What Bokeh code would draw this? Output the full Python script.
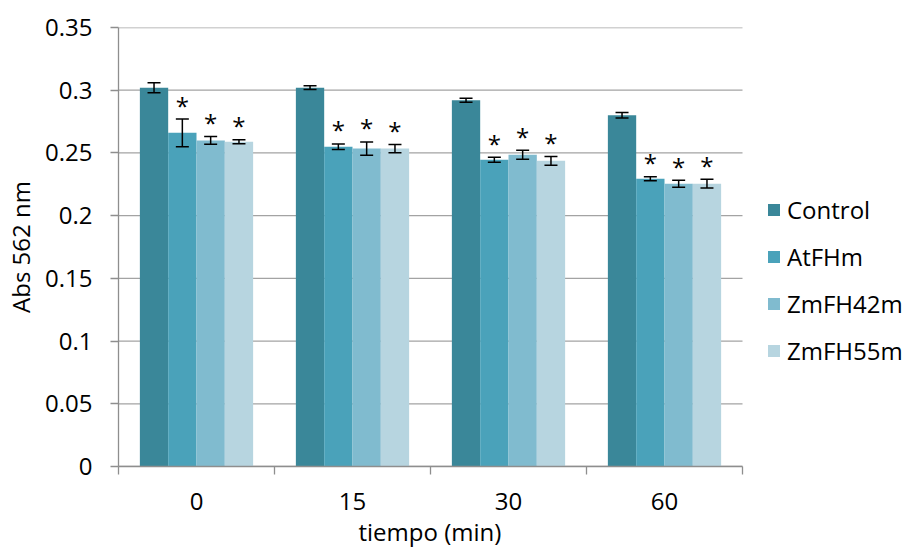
from bokeh.plotting import figure
from bokeh.models import ColumnDataSource, FixedTicker, Whisker, TeeHead, Legend, LegendItem, Range1d, Title
from bokeh.core.properties import value
from bokeh.embed import file_html
from bokeh.resources import INLINE

# ---- data ----
times = ["0", "15", "30", "60"]
series = ["Control", "AtFHm", "ZmFH42m", "ZmFH55m"]
control = [0.302, 0.302, 0.292, 0.280]
control_err = [0.004, 0.0015, 0.0016, 0.0022]
atfhm = [0.266, 0.255, 0.2445, 0.2295]
atfhm_err = [0.011, 0.0022, 0.002, 0.0016]
zmfh42m = [0.260, 0.2535, 0.2485, 0.2255]
zmfh42m_err = [0.003, 0.0053, 0.0036, 0.0028]
zmfh55m = [0.259, 0.2535, 0.2437, 0.2255]
zmfh55m_err = [0.0016, 0.0033, 0.0035, 0.0035]
significant = [
    [False, False, False, False],
    [True, True, True, True],
    [True, True, True, True],
    [True, True, True, True],
]
y_ticks = [0, 0.05, 0.1, 0.15, 0.2, 0.25, 0.3, 0.35]
y_tick_labels = ["0", "0.05", "0.1", "0.15", "0.2", "0.25", "0.3", "0.35"]
x_title = "tiempo (min)"
y_title = "Abs 562 nm"

values = [control, atfhm, zmfh42m, zmfh55m]
errors = [control_err, atfhm_err, zmfh42m_err, zmfh55m_err]
colors = ["#3A8799", "#4AA2BA", "#80BBCF", "#B7D5E0"]

FONT = "Open Sans"
FS = "24px"
GRID = "#A3A3A3"
AXIS = "#8E8E8E"

W, H = 908, 556
LEFT, RIGHT_EDGE = 118, 742          # plotting area edges (pixels)
n = len(times)
x_end = n * (W - LEFT) / (RIGHT_EDGE - LEFT)   # frame extends under legend

p = figure(width=W, height=H, output_backend="svg", toolbar_location=None,
           x_range=Range1d(0, x_end), y_range=Range1d(0, 0.35),
           min_border_left=LEFT, min_border_right=0, min_border_top=27, min_border_bottom=90)
p.outline_line_color = None
p.background_fill_color = "white"
p.border_fill_color = "white"

# horizontal gridlines limited to the category extent
p.segment(x0=[0] * len(y_ticks), x1=[n] * len(y_ticks), y0=y_ticks, y1=y_ticks,
          line_color=GRID, line_width=1.3, level="underlay")

bar_w = 0.1815
centers = [i + 0.5 for i in range(n)]
items = []
for k, name in enumerate(series):
    off = (k - 1.5) * bar_w
    xs = [c + off for c in centers]
    v = values[k]
    e = errors[k]
    src = ColumnDataSource(dict(x=xs, top=v, upper=[a + b for a, b in zip(v, e)],
                                lower=[a - b for a, b in zip(v, e)]))
    r = p.vbar(x="x", top="top", bottom=0, width=bar_w, source=src,
               fill_color=colors[k], line_color=None)
    items.append(LegendItem(label=name, renderers=[r]))
    w = Whisker(source=src, base="x", upper="upper", lower="lower", level="overlay",
                line_color="black", line_width=1.5,
                upper_head=TeeHead(size=13, line_color="black", line_width=1.5),
                lower_head=TeeHead(size=13, line_color="black", line_width=1.5))
    p.add_layout(w)
    sx = [x for x, s in zip(xs, significant[k]) if s]
    sy = [u for u, s in zip(src.data["upper"], significant[k]) if s]
    if sx:
        p.text(x=sx, y=sy, text=["*"] * len(sx), text_align="center",
               text_baseline="alphabetic", y_offset=-14,
               text_font=value(FONT), text_font_size=FS, text_color="black")

# axes
p.yaxis.ticker = FixedTicker(ticks=y_ticks)
p.yaxis.major_label_overrides = {t: s for t, s in zip(y_ticks, y_tick_labels)}
p.yaxis.minor_tick_line_color = None
p.yaxis.major_tick_in = 0
p.yaxis.major_tick_out = 8
p.yaxis.major_tick_line_color = AXIS
p.yaxis.axis_line_color = AXIS
p.yaxis.axis_line_width = 1.3
p.yaxis.major_tick_line_width = 1.3
p.yaxis.major_label_standoff = 18
p.yaxis.axis_label = y_title
p.yaxis.axis_label_standoff = 5

p.xaxis.bounds = (0, n)
p.xaxis.ticker = FixedTicker(ticks=centers, minor_ticks=list(range(n + 1)))
p.xaxis.major_label_overrides = {c: t for c, t in zip(centers, times)}
p.xaxis.major_tick_line_color = None
p.xaxis.major_tick_in = 0
p.xaxis.major_tick_out = 0
p.xaxis.minor_tick_in = 0
p.xaxis.minor_tick_out = 8
p.xaxis.minor_tick_line_color = AXIS
p.xaxis.minor_tick_line_width = 1.3
p.xaxis.axis_line_color = AXIS
p.xaxis.axis_line_width = 1.3
p.xaxis.major_label_standoff = 18

for ax in (p.xaxis, p.yaxis):
    ax.major_label_text_font = FONT
    ax.major_label_text_font_size = FS
    ax.major_label_text_color = "black"
    ax.axis_label_text_font = FONT
    ax.axis_label_text_font_size = FS
    ax.axis_label_text_font_style = "normal"
    ax.axis_label_text_color = "black"

# x-axis title centred under the category area (not the whole frame)
p.add_layout(Title(text=x_title, align="left", offset=(RIGHT_EDGE - LEFT) / 2 - 72,
                   text_font=FONT, text_font_size=FS, text_font_style="normal",
                   text_color="black", standoff=4, vertical_align="top"), "below")

p.xgrid.visible = False
p.ygrid.visible = False

legend = Legend(items=items, location=(648, 99), orientation="vertical",
                glyph_width=15, glyph_height=15, label_height=33, spacing=14,
                label_standoff=6, padding=10, margin=0,
                border_line_color=None, background_fill_alpha=0,
                label_text_font=FONT, label_text_font_size=FS, label_text_color="black")
p.add_layout(legend, "center")

open("out.html", "w").write(file_html(p, INLINE))
